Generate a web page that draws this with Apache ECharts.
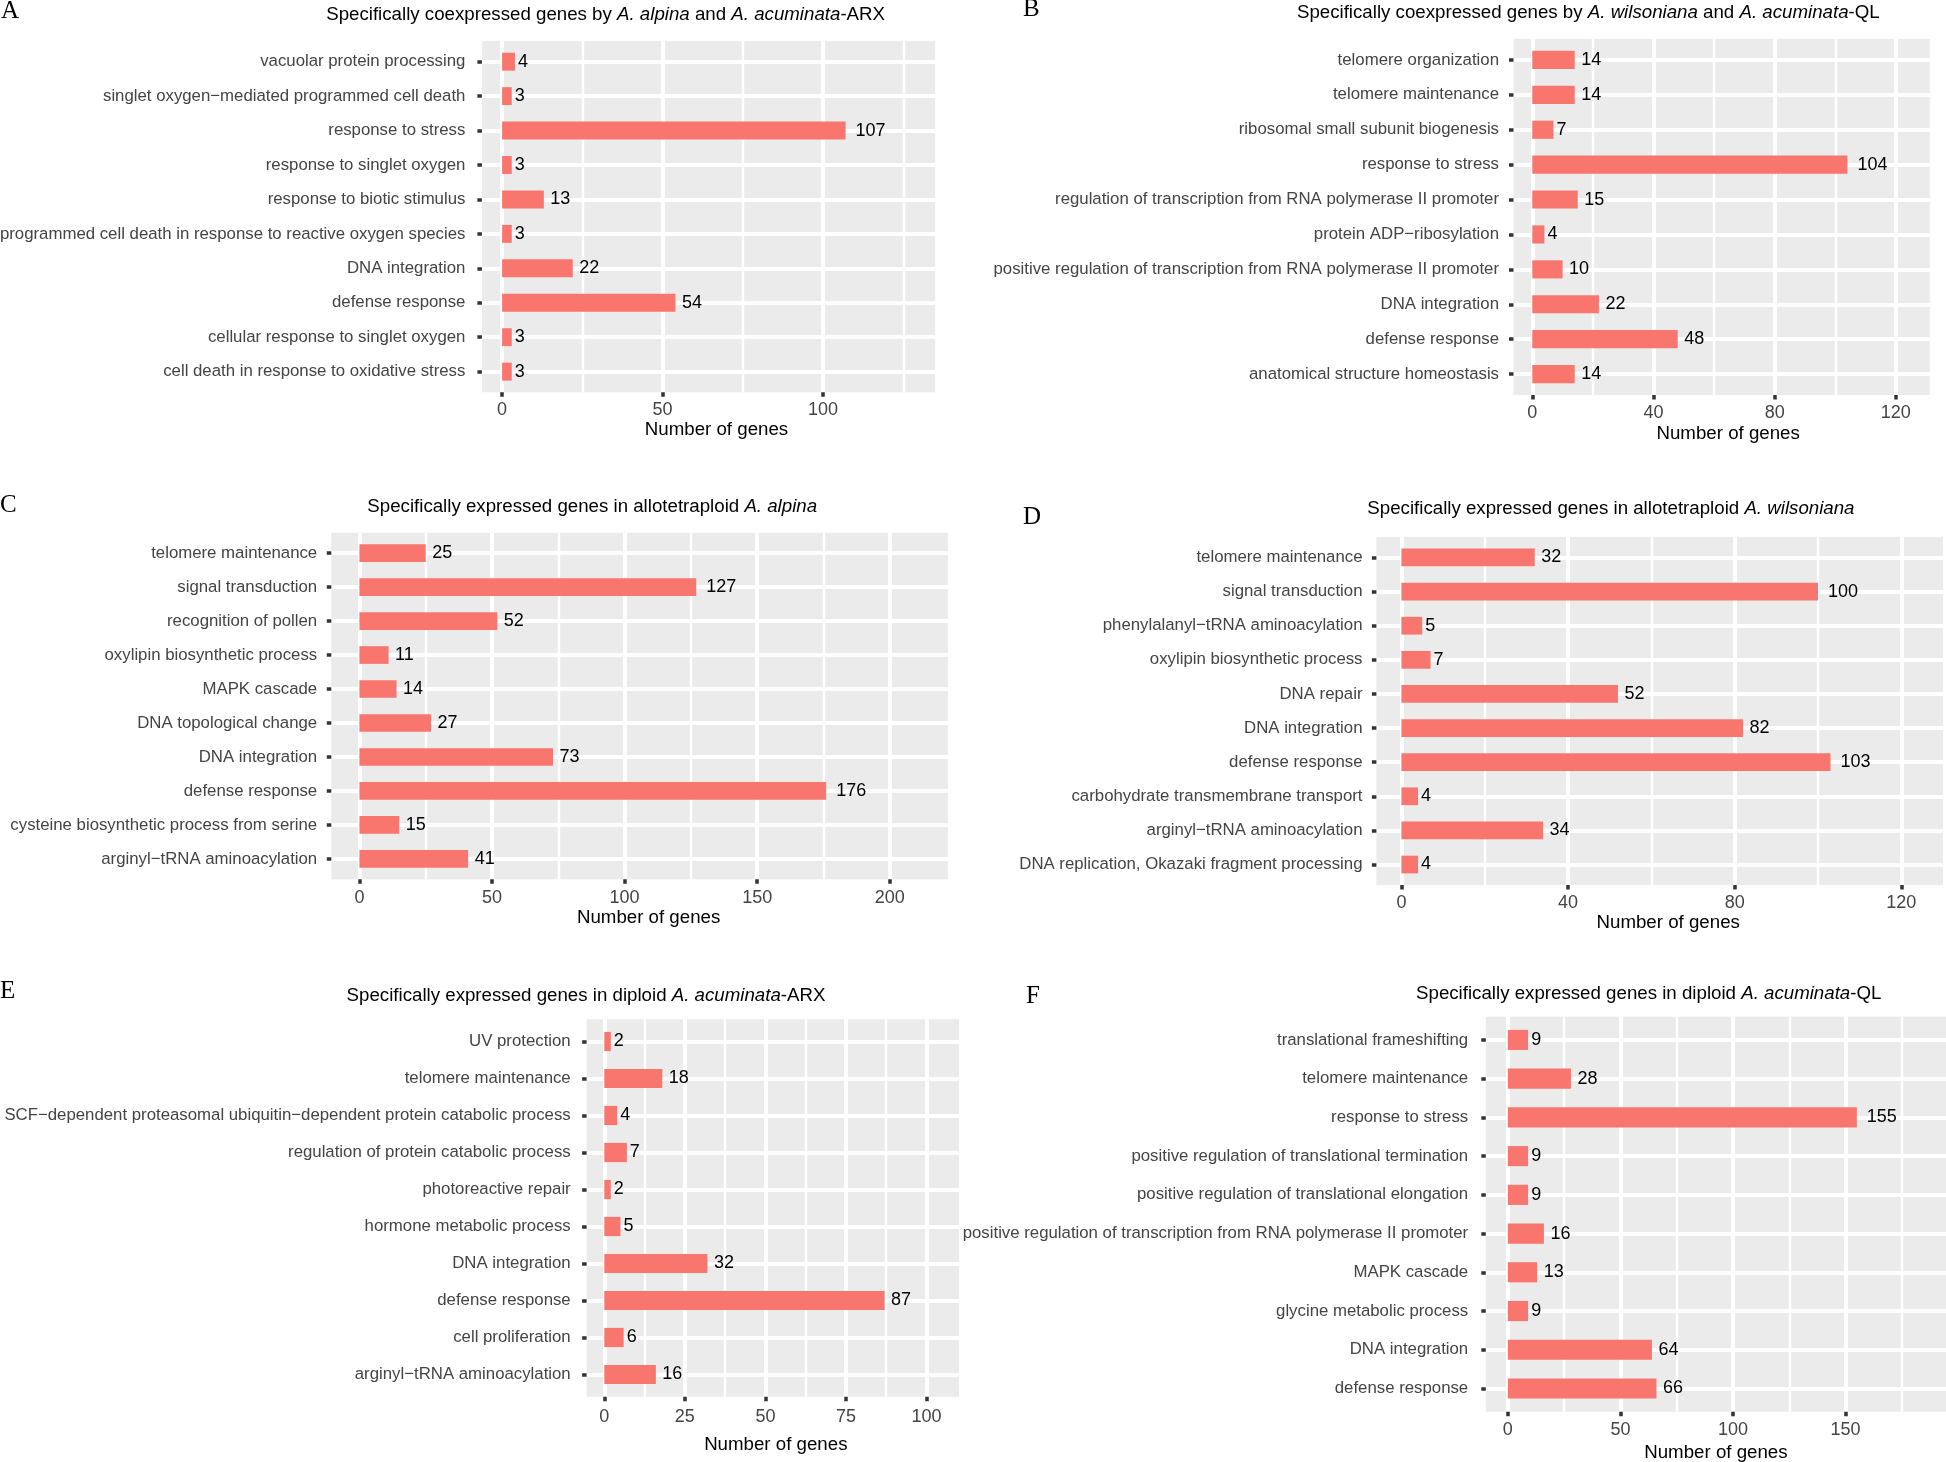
<!DOCTYPE html>
<html>
<head>
<meta charset="utf-8">
<script src="https://cdn.jsdelivr.net/npm/echarts@6/dist/echarts.min.js"></script>
<style>
html,body{margin:0;padding:0;background:#ffffff;}
#chart{width:1946px;height:1462px;}
</style>
</head>
<body>
<div id="chart"></div>
<script>
// ---------------- DATA ----------------
const catsA = ["vacuolar protein processing","singlet oxygen\u2212mediated programmed cell death","response to stress","response to singlet oxygen","response to biotic stimulus","programmed cell death in response to reactive oxygen species","DNA integration","defense response","cellular response to singlet oxygen","cell death in response to oxidative stress"];
const valsA = [4,3,107,3,13,3,22,54,3,3];
const ticksA = [0,50,100];
const minorA = [25,75,125];
const titleA = ["Specifically coexpressed genes by ", ["A. alpina"], " and ", ["A. acuminata"], "-ARX"];

const catsB = ["telomere organization","telomere maintenance","ribosomal small subunit biogenesis","response to stress","regulation of transcription from RNA polymerase II promoter","protein ADP\u2212ribosylation","positive regulation of transcription from RNA polymerase II promoter","DNA integration","defense response","anatomical structure homeostasis"];
const valsB = [14,14,7,104,15,4,10,22,48,14];
const ticksB = [0,40,80,120];
const minorB = [20,60,100];
const titleB = ["Specifically coexpressed genes by ", ["A. wilsoniana"], " and ", ["A. acuminata"], "-QL"];

const catsC = ["telomere maintenance","signal transduction","recognition of pollen","oxylipin biosynthetic process","MAPK cascade","DNA topological change","DNA integration","defense response","cysteine biosynthetic process from serine","arginyl\u2212tRNA aminoacylation"];
const valsC = [25,127,52,11,14,27,73,176,15,41];
const ticksC = [0,50,100,150,200];
const minorC = [25,75,125,175];
const titleC = ["Specifically expressed genes in allotetraploid ", ["A. alpina"]];

const catsD = ["telomere maintenance","signal transduction","phenylalanyl\u2212tRNA aminoacylation","oxylipin biosynthetic process","DNA repair","DNA integration","defense response","carbohydrate transmembrane transport","arginyl\u2212tRNA aminoacylation","DNA replication, Okazaki fragment processing"];
const valsD = [32,100,5,7,52,82,103,4,34,4];
const ticksD = [0,40,80,120];
const minorD = [20,60,100];
const titleD = ["Specifically expressed genes in allotetraploid ", ["A. wilsoniana"]];

const catsE = ["UV protection","telomere maintenance","SCF\u2212dependent proteasomal ubiquitin\u2212dependent protein catabolic process","regulation of protein catabolic process","photoreactive repair","hormone metabolic process","DNA integration","defense response","cell proliferation","arginyl\u2212tRNA aminoacylation"];
const valsE = [2,18,4,7,2,5,32,87,6,16];
const ticksE = [0,25,50,75,100];
const minorE = [12.5,37.5,62.5,87.5];
const titleE = ["Specifically expressed genes in diploid ", ["A. acuminata"], "-ARX"];

const catsF = ["translational frameshifting","telomere maintenance","response to stress","positive regulation of translational termination","positive regulation of translational elongation","positive regulation of transcription from RNA polymerase II promoter","MAPK cascade","glycine metabolic process","DNA integration","defense response"];
const valsF = [9,28,155,9,9,16,13,9,64,66];
const ticksF = [0,50,100,150];
const minorF = [25,75,125,175];
const titleF = ["Specifically expressed genes in diploid ", ["A. acuminata"], "-QL"];

const xTitle = "Number of genes";
const letters = ["A","B","C","D","E","F"];

// ---------------- LAYOUT (positions / styles) ----------------
const layouts = [
  {left:481.9, right:935.1, top:41,    bottom:392.3,  min:-6.3,  max:134.9, lm:16.5, tm:9.2,  ng:28.3, ns:8,   tx:605.6,  ty:13.7,  lx:1,      ly:11},
  {left:1513.5,right:1929.8,top:39,    bottom:395,    min:-6.2,  max:131.2, lm:14.5, tm:9.5,  ng:29,   ns:6.5, tx:1588.3, ty:11.7,  lx:1022.9, ly:9.5},
  {left:331.3, right:947.9, top:532.7, bottom:879.3,  min:-10.6, max:221.9, lm:14.1, tm:10,   ng:28.9, ns:9,   tx:592.2,  ty:505.8, lx:0,      ly:505},
  {left:1376.4,right:1943,  top:537,   bottom:885,    min:-6.0,  max:130,   lm:13.9, tm:9.3,  ng:28.2, ns:8.5, tx:1610.9, ty:507.5, lx:1022.9, ly:517},
  {left:586.6, right:959,   top:1019.3,bottom:1396.7, min:-5.5,  max:110.1, lm:15.9, tm:11,   ng:38.2, ns:3,   tx:586,    ty:994.2, lx:0,      ly:991.5},
  {left:1485.8,right:1946,  top:1016.7,bottom:1411.7, min:-9.8,  max:194.6, lm:17.6, tm:9.3,  ng:31.5, ns:0,   tx:1648.7, ty:992.5, lx:1026,   ly:996.5}
];

const panels = [
  {cats:catsA, vals:valsA, ticks:ticksA, minor:minorA, title:titleA},
  {cats:catsB, vals:valsB, ticks:ticksB, minor:minorB, title:titleB},
  {cats:catsC, vals:valsC, ticks:ticksC, minor:minorC, title:titleC},
  {cats:catsD, vals:valsD, ticks:ticksD, minor:minorD, title:titleD},
  {cats:catsE, vals:valsE, ticks:ticksE, minor:minorE, title:titleE},
  {cats:catsF, vals:valsF, ticks:ticksF, minor:minorF, title:titleF}
];

const FONT = '"Liberation Sans", Arial, Helvetica, sans-serif';
const SERIF = '"Liberation Serif", "Times New Roman", Times, serif';
const BAR = '#F8766D';
const PANEL_BG = '#EBEBEB';
const AXIS_TXT = '#444444';

const option = {
  animation: false,
  backgroundColor: '#ffffff',
  title: [], grid: [], xAxis: [], yAxis: [], series: []
};

panels.forEach((p, i) => {
  const L = layouts[i];
  const bgH = L.bottom - L.top;
  const u = bgH / 10.2;
  const W = L.right - L.left;

  // title with italic species names
  const txt = p.title.map(s => Array.isArray(s) ? '{i|' + s[0] + '}' : '{n|' + s + '}').join('');
  option.title.push({
    text: txt, left: L.tx, top: L.ty + 1.5, textAlign: 'center', textVerticalAlign: 'middle', padding: 0,
    textStyle: {
      fontFamily: FONT, fontSize: 18.7, fontWeight: 'normal', color: '#000',
      rich: {
        n: {fontFamily: FONT, fontSize: 18.7, color: '#000'},
        i: {fontFamily: FONT, fontSize: 18.7, color: '#000', fontStyle: 'italic'}
      }
    }
  });
  option.title.push({
    text: letters[i], left: L.lx, top: L.ly, textAlign: 'left', textVerticalAlign: 'middle', padding: 0,
    textStyle: {fontFamily: SERIF, fontSize: 25, fontWeight: 'normal', color: '#000'}
  });

  // background panel grid
  const gBg = option.grid.length;
  option.grid.push({left: L.left, top: L.top, width: W, height: bgH, show: true,
    backgroundColor: PANEL_BG, borderWidth: 0, containLabel: false, outerBoundsMode: 'none'});
  // data grid (categories at integer positions, 0.6 expansion on each side)
  const gD = option.grid.length;
  option.grid.push({left: L.left, top: L.top + 0.6 * u, width: W, height: 9 * u, show: false,
    containLabel: false, outerBoundsMode: 'none'});

  // major x axis (ticks, labels, major grid)
  option.xAxis.push({
    gridIndex: gBg, type: 'value', min: L.min, max: L.max, position: 'bottom',
    axisLine: {show: false, onZero: false},
    axisTick: {show: true, customValues: p.ticks, length: 4.5, lineStyle: {color: '#333', width: 3.5}},
    axisLabel: {show: true, customValues: p.ticks, color: AXIS_TXT, fontSize: 18, fontFamily: FONT, margin: L.tm},
    splitLine: {show: true, lineStyle: {color: '#ffffff', width: 4}},
    name: xTitle, nameLocation: 'middle', nameGap: L.ng,
    nameTextStyle: {color: '#000', fontSize: 18.7, fontFamily: FONT, padding: [0, 0, 0, 2 * L.ns]}
  });
  // minor x grid
  option.xAxis.push({
    gridIndex: gBg, type: 'value', min: L.min, max: L.max, position: 'top',
    axisLine: {show: false, onZero: false},
    axisTick: {show: false, customValues: p.minor},
    axisLabel: {show: false, customValues: p.minor},
    splitLine: {show: true, lineStyle: {color: '#ffffff', width: 2.4}}
  });
  option.yAxis.push({gridIndex: gBg, type: 'value', min: 0, max: 1, show: false});

  // data axes
  const xi = option.xAxis.length;
  option.xAxis.push({gridIndex: gD, type: 'value', min: L.min, max: L.max, show: false,
    axisLine: {onZero: false}, splitLine: {show: false}});
  const yi = option.yAxis.length;
  option.yAxis.push({
    gridIndex: gD, type: 'category', data: p.cats, inverse: true, boundaryGap: false, position: 'left',
    axisLine: {show: false, onZero: false},
    axisTick: {show: true, interval: 0, length: 4.5, lineStyle: {color: '#333', width: 3.5}},
    axisLabel: {interval: 0, color: AXIS_TXT, fontSize: 16.8, fontFamily: FONT, margin: L.lm, padding: [4, 0, 0, 0]},
    splitLine: {show: true, interval: 0, lineStyle: {color: '#ffffff', width: 4}}
  });

  option.series.push({
    type: 'bar', xAxisIndex: xi, yAxisIndex: yi, barWidth: '52%', clip: false,
    itemStyle: {color: BAR},
    label: {show: true, position: 'right', color: '#000', fontSize: 18, fontFamily: FONT, padding: [3, 0, 0, 0]},
    data: p.vals.map(v => ({value: v, label: {distance: 3.5 * String(v).length - 0.5}}))
  });
});

const chart = echarts.init(document.getElementById('chart'), null, {renderer: 'canvas'});
chart.setOption(option);
</script>
</body>
</html>
